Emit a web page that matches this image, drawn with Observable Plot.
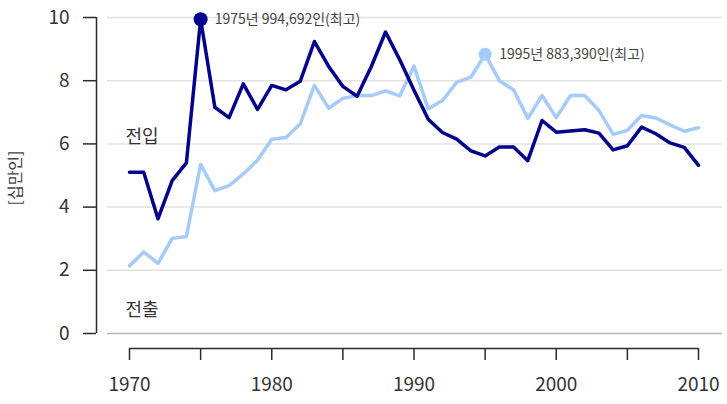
<!DOCTYPE html>
<html>
<head>
<meta charset="utf-8">
<script src="https://cdn.jsdelivr.net/npm/d3@7"></script>
<script src="https://cdn.jsdelivr.net/npm/@observablehq/plot@0.6"></script>
<style>
  html, body { margin: 0; padding: 0; background: #fff; }
</style>
</head>
<body>
<div id="chart"></div>
<script>
// Migration into and out of the region, in units of 100,000 people
const years = d3.range(1970, 2011);
const inflow = [5.10, 5.10, 3.63, 4.84, 5.40, 9.94692, 7.16, 6.83, 7.90, 7.09,
                7.85, 7.71, 7.98, 9.24, 8.45, 7.82, 7.51, 8.45, 9.54, 8.66,
                7.70, 6.78, 6.36, 6.15, 5.78, 5.62, 5.90, 5.90, 5.47, 6.74,
                6.37, 6.41, 6.45, 6.34, 5.81, 5.94, 6.53, 6.32, 6.03, 5.89, 5.32];
const outflow = [2.14, 2.58, 2.22, 3.01, 3.07, 5.35, 4.52, 4.68, 5.05, 5.48,
                 6.15, 6.20, 6.63, 7.85, 7.13, 7.44, 7.53, 7.53, 7.68, 7.52,
                 8.46, 7.11, 7.37, 7.95, 8.11, 8.8339, 8.00, 7.71, 6.81, 7.53,
                 6.83, 7.53, 7.53, 7.06, 6.30, 6.43, 6.90, 6.82, 6.60, 6.40, 6.51];
const seriesNames = ["전입", "전출"];
const peakLabels = ["1975년 994,692인(최고)", "1995년 883,390인(최고)"];
const xTicks = d3.range(1970, 2011, 5);
const yTicks = d3.range(0, 11, 2);
const yLabel = "[십만인]";

const darkBlue = "#02028b";
const lightBlue = "#a4cbfa";
const axisColor = "#2b2b2b";

const inRows = years.map((year, i) => ({year, value: inflow[i]}));
const outRows = years.map((year, i) => ({year, value: outflow[i]}));
const peakIn = d3.greatest(inRows, d => d.value);
const peakOut = d3.greatest(outRows, d => d.value);

const chart = Plot.plot({
  width: 727,
  height: 404,
  // the y axis sits at the frame's left edge; the data start 33px further right
  marginLeft: 96,
  marginRight: 29,
  marginTop: 17,
  marginBottom: 71,
  x: {domain: [1970, 2010], insetLeft: 33},
  y: {domain: [0, 10]},
  style: {
    fontFamily: "'Noto Sans CJK KR', 'Noto Sans', sans-serif",
    fontSize: "19px",
    background: "#fff"
  },
  marks: [
    // horizontal grid
    Plot.ruleY(yTicks.filter(d => d > 0), {x1: 1970, x2: 2010, insetLeft: -22, insetRight: -24, stroke: "#e2e2e2", strokeWidth: 1.5}),
    Plot.ruleY([0], {x1: 1970, x2: 2010, insetLeft: -22, insetRight: -24, stroke: "#b4b4b4", strokeWidth: 1.5}),
    // y axis
    Plot.ruleX([1970], {y1: 0, y2: 10, dx: -33, stroke: axisColor, strokeWidth: 1.5}),
    Plot.axisY(yTicks, {anchor: "left", tickSize: 13, tickPadding: 14, label: null,
      stroke: axisColor, strokeWidth: 1.5, fill: "#333", fontSize: 19}),
    Plot.text([yLabel], {frameAnchor: "left", rotate: -90, dx: -81, dy: 30, fontSize: 16, fill: "#444"}),
    // detached x axis
    Plot.ruleY([0], {x1: 1970, x2: 2010, dy: 15, stroke: axisColor, strokeWidth: 1.5}),
    Plot.axisX(xTicks, {anchor: "bottom", tickSize: 12, dy: 15, tickPadding: 17, label: null,
      tickFormat: d => d % 10 === 0 ? String(d) : "", stroke: axisColor, strokeWidth: 1.5, fill: "#333", fontSize: 19}),
    // series
    Plot.line(outRows, {x: "year", y: "value", stroke: lightBlue, strokeWidth: 3.5}),
    Plot.line(inRows, {x: "year", y: "value", stroke: darkBlue, strokeWidth: 3.5}),
    Plot.dot([peakIn], {x: "year", y: "value", r: 7, fill: darkBlue}),
    Plot.dot([peakOut], {x: "year", y: "value", r: 6.5, fill: lightBlue}),
    Plot.text([peakIn], {x: "year", y: "value", text: () => peakLabels[0], textAnchor: "start", dx: 14, fontSize: 14, fill: "#444"}),
    Plot.text([peakOut], {x: "year", y: "value", text: () => peakLabels[1], textAnchor: "start", dx: 14, fontSize: 14, fill: "#444"}),
    // series labels
    Plot.text([{year: 1970, value: 6.2, name: seriesNames[0]}, {year: 1970, value: 0.75, name: seriesNames[1]}],
      {x: "year", y: "value", text: "name", textAnchor: "start", dx: -4, fontSize: 18, fill: "#333"})
  ]
});
document.getElementById("chart").append(chart);
</script>
</body>
</html>
